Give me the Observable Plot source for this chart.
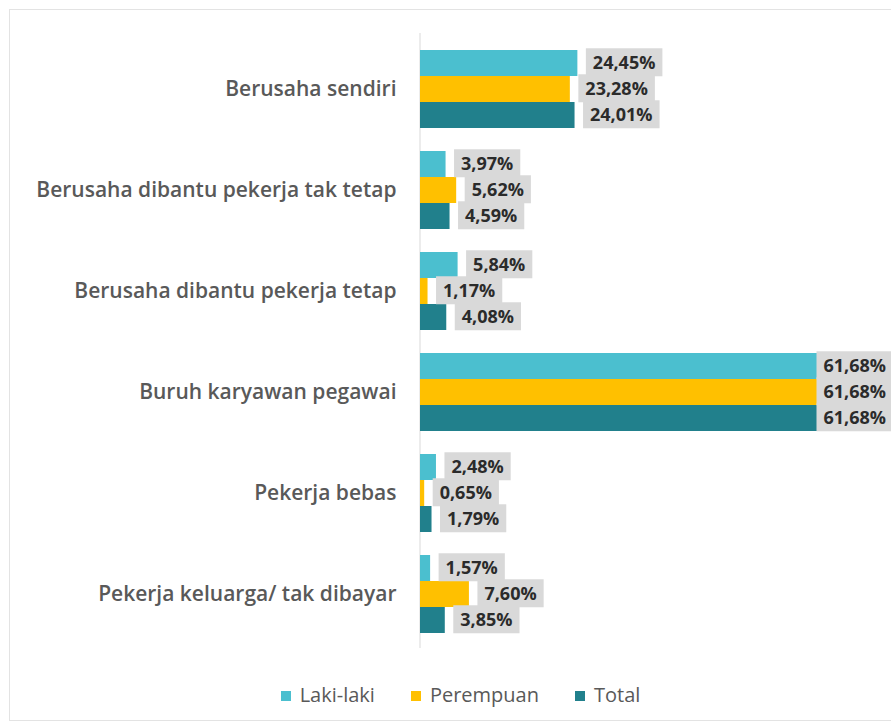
<!DOCTYPE html>
<html>
<head>
<meta charset="utf-8">
<script src="https://cdn.jsdelivr.net/npm/d3@7"></script>
<script src="https://cdn.jsdelivr.net/npm/@observablehq/plot@0.6"></script>
<style>
  html, body { margin: 0; padding: 0; background: #fff; overflow: hidden; }
  #frame { position: absolute; left: 9px; top: 9px; width: 900px; height: 712px; border: 1px solid #e3e3e3; box-sizing: border-box; }
  #chart { position: absolute; left: 0; top: 0; }
  #chart svg { overflow: visible; }
  #legend { position: absolute; left: 0; top: 680px; width: 891px; display: flex; justify-content: center; padding-left: 30px; box-sizing: border-box;
    font-family: "Open Sans", sans-serif; font-size: 20px; line-height: 30px; color: #595959; gap: 36px; }
  #legend span.sw { display: inline-block; width: 10px; height: 10px; margin-right: 9px; vertical-align: middle; position: relative; top: -1px; }
</style>
</head>
<body>
<div id="frame"></div>
<div id="chart"></div>
<div id="legend"></div>
<script>
const categories = [
  "Berusaha sendiri",
  "Berusaha dibantu pekerja tak tetap",
  "Berusaha dibantu pekerja tetap",
  "Buruh karyawan pegawai",
  "Pekerja bebas",
  "Pekerja keluarga/ tak dibayar"
];
const seriesNames = ["Laki-laki", "Perempuan", "Total"];
const lakiLaki  = [24.45, 3.97, 5.84, 61.68, 2.48, 1.57];
const perempuan = [23.28, 5.62, 1.17, 61.68, 0.65, 7.60];
const total     = [24.01, 4.59, 4.08, 61.68, 1.79, 3.85];
const colors = ["#4bbfcf", "#ffc000", "#21808c"];

const seriesValues = [lakiLaki, perempuan, total];
const rows = [];
categories.forEach((c, i) => {
  seriesNames.forEach((s, j) => rows.push({category: c, series: s, value: seriesValues[j][i]}));
});
const xmax = d3.max(rows, d => d.value);

const fmt = v => d3.format(".2f")(v).replace(".", ",") + "%";
const labelOpts = {x: "value", y: "series", text: d => fmt(d.value), textAnchor: "start",
  fill: "#2b2b2b", fontWeight: "bold", fontSize: 18};

const plot = Plot.plot({
  width: 891,
  height: 660,
  marginLeft: 420,
  marginRight: 74,
  marginTop: 36,
  marginBottom: 14,
  style: {fontFamily: "'Open Sans', sans-serif", fontSize: "21px", fontWeight: 600, color: "#595959", background: "transparent"},
  x: {domain: [0, xmax], axis: null},
  y: {domain: seriesNames, axis: null, padding: 0},
  fy: {domain: categories, label: null, tickSize: 0, tickPadding: 24, paddingInner: 0.222, paddingOuter: 0.113},
  facet: {data: rows, y: "category", label: null},
  color: {domain: seriesNames, range: colors},
  marks: [
    Plot.barX(rows, {x: "value", y: "series", fill: "series"}),
    // labels that fit to the right of the bar
    Plot.text(rows, {...labelOpts, filter: d => d.value < xmax, dx: 15}),
    // labels of the longest bars are pulled in close to the bar end
    Plot.text(rows, {...labelOpts, filter: d => d.value >= xmax, dx: 6})
  ]
});
document.getElementById("chart").appendChild(plot);

// gray boxes behind data labels
plot.querySelectorAll("text").forEach(t => {
  if (!/%$/.test(t.textContent)) return;
  const b = t.getBBox();
  const cy = b.y + b.height / 2;
  const r = document.createElementNS("http://www.w3.org/2000/svg", "rect");
  r.setAttribute("x", b.x - 7);
  r.setAttribute("y", cy - 14);
  r.setAttribute("width", b.width + 14);
  r.setAttribute("height", 28);
  r.setAttribute("fill", "#d9d9d9");
  const tr = t.getAttribute("transform");
  if (tr) r.setAttribute("transform", tr);
  t.parentNode.insertBefore(r, t);
});

// vertical category axis line at x = 0
const x0 = plot.scale("x").apply(0);
const line = document.createElementNS("http://www.w3.org/2000/svg", "line");
line.setAttribute("x1", x0); line.setAttribute("x2", x0);
line.setAttribute("y1", 33); line.setAttribute("y2", 648);
line.setAttribute("stroke", "#d9d9d9");
plot.insertBefore(line, plot.firstChild.nextSibling);

// legend
const legend = document.getElementById("legend");
seriesNames.forEach((s, i) => {
  const item = document.createElement("div");
  item.innerHTML = `<span class="sw" style="background:${colors[i]}"></span>${s}`;
  legend.appendChild(item);
});
</script>
</body>
</html>
